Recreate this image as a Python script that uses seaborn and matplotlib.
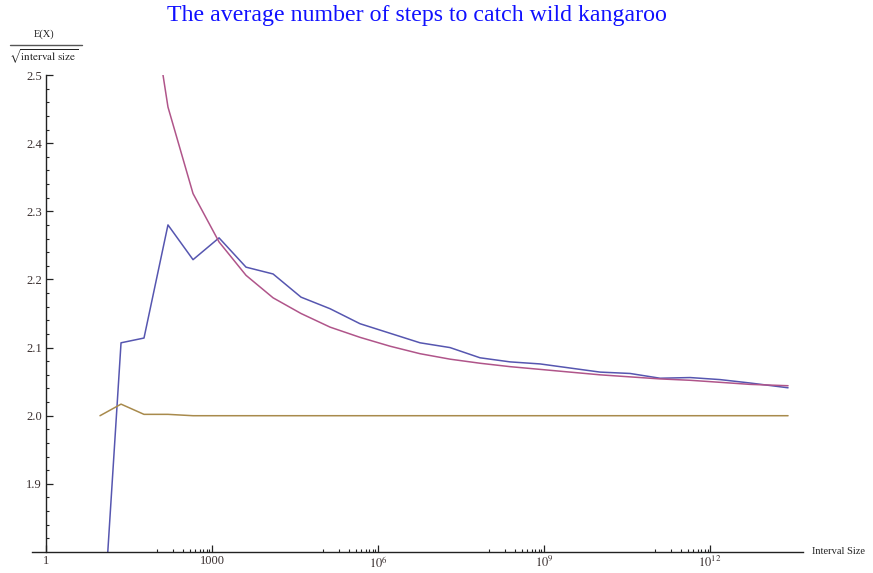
import numpy as np
import pandas as pd
import matplotlib
matplotlib.use("Agg")
import matplotlib.pyplot as plt
from matplotlib.lines import Line2D
from matplotlib.ticker import FixedLocator, NullFormatter
import seaborn as sns

# Interval sizes at which the expected number of steps was evaluated
interval_sizes = [9.46, 22.7, 59.0, 160, 454, 1340, 4120, 1.27e4, 4.06e4, 1.36e5,
                  4.73e5, 1.65e6, 5.75e6, 2.0e7, 6.98e7, 2.43e8, 8.48e8, 2.95e9,
                  1.03e10, 3.59e10, 1.25e11, 4.36e11, 1.52e12, 5.29e12, 2.57e13]

# E(X)/sqrt(interval size): simulated walk
simulated = [1.62, 2.107, 2.114, 2.280, 2.229, 2.261, 2.218, 2.208, 2.174, 2.157,
             2.135, 2.121, 2.107, 2.100, 2.085, 2.079, 2.076, 2.070, 2.064, 2.062,
             2.055, 2.056, 2.053, 2.048, 2.041]

# E(X)/sqrt(interval size): analytic estimate (starts from the third size)
estimate = [np.nan, np.nan, 2.68, 2.453, 2.326, 2.255, 2.206, 2.173, 2.150, 2.130,
            2.115, 2.102, 2.091, 2.083, 2.077, 2.072, 2.068, 2.064, 2.060, 2.057,
            2.054, 2.052, 2.049, 2.046, 2.044]

# E(X)/sqrt(interval size): asymptotic limit
limit = [2.0, 2.017, 2.002, 2.002, 2.0, 2.0, 2.0, 2.0, 2.0, 2.0,
         2.0, 2.0, 2.0, 2.0, 2.0, 2.0, 2.0, 2.0, 2.0, 2.0,
         2.0, 2.0, 2.0, 2.0, 2.0]

series_names = ["simulated", "estimate", "limit"]
series_colors = ["#5656b0", "#b0558a", "#a88a4c"]

x_ticks = [1, 1e3, 1e6, 1e9, 1e12]
x_tick_labels = ["1", "1000", r"$10^{6}$", r"$10^{9}$", r"$10^{12}$"]
y_ticks = [1.9, 2.0, 2.1, 2.2, 2.3, 2.4, 2.5]
y_tick_labels = ["1.9", "2.0", "2.1", "2.2", "2.3", "2.4", "2.5"]

frames = []
for name, vals in zip(series_names, [simulated, estimate, limit]):
    frames.append(pd.DataFrame({"size": interval_sizes, "ratio": vals, "series": name}))
df = pd.concat(frames, ignore_index=True).dropna()

sns.set_style("white")
plt.rcParams["font.family"] = ["Liberation Serif", "DejaVu Serif"]
plt.rcParams["mathtext.fontset"] = "stix"

W, H = 873, 573
fig = plt.figure(figsize=(W / 100, H / 100), dpi=100)
ax_left, ax_right, ax_top, ax_bottom = 32, 803, 75, 552
ax = fig.add_axes([ax_left / W, 1 - ax_bottom / H, (ax_right - ax_left) / W, (ax_bottom - ax_top) / H])

sns.lineplot(data=df, x="size", y="ratio", hue="series", hue_order=series_names,
             palette=series_colors, estimator=None, sort=False, linewidth=1.1,
             legend=False, ax=ax)

ax.set_xscale("log")
ax.set_xlim(10 ** -0.253, 10 ** 13.68)
ax.set_ylim(1.8, 2.5)

for side in ["top", "right"]:
    ax.spines[side].set_visible(False)
ax.spines["left"].set_position(("data", 1))
for side in ["left", "bottom"]:
    ax.spines[side].set_color("#222222")
    ax.spines[side].set_linewidth(1.0)

# x ticks: labelled every three decades, minor ticks at j*10^(3k-1)
ax.xaxis.set_major_locator(FixedLocator(x_ticks))
ax.set_xticklabels(x_tick_labels)
minor_x = [j * 10.0 ** (3 * k - 1) for k in range(1, 5) for j in range(1, 10)]
ax.xaxis.set_minor_locator(FixedLocator(minor_x))
ax.xaxis.set_minor_formatter(NullFormatter())

ax.yaxis.set_major_locator(FixedLocator(y_ticks))
ax.set_yticklabels(y_tick_labels)
ax.yaxis.set_minor_locator(FixedLocator(np.round(np.arange(1.82, 2.5, 0.02), 2)))

ax.tick_params(axis="x", which="major", direction="in", length=5, width=0.9,
               color="#222222", labelsize=9, pad=2, labelcolor="#3a3030")
ax.tick_params(axis="x", which="minor", direction="in", length=2.5, width=0.8,
               color="#222222")
ax.tick_params(axis="y", which="major", direction="in", length=5, width=0.9,
               color="#222222", labelsize=9, pad=3, labelcolor="#3a3030")
ax.tick_params(axis="y", which="minor", direction="in", length=2.5, width=0.8,
               color="#222222")
ax.tick_params(bottom=True, left=True, which="both")
ax.set_xlabel("")
ax.set_ylabel("")

# Title
fig.text(417 / W, 1 - 16 / H, "The average number of steps to catch wild kangaroo",
         ha="center", va="center", color="#1010ff", fontsize=17.2)

# Vertical axis label as a fraction
fig.text(44 / W, 1 - 34 / H, "E(X)", ha="center", va="center", fontsize=7.5, color="#222222")
fig.add_artist(Line2D([10 / W, 82 / W], [1 - 45 / H, 1 - 45 / H],
                      transform=fig.transFigure, color="#555555", linewidth=1.0))
fig.text(44 / W, 1 - 57 / H, r"$\sqrt{\mathrm{interval\ size}}$", ha="center", va="center",
         fontsize=8, color="#222222")

# Horizontal axis label
fig.text(812 / W, 1 - 552 / H, "Interval Size", ha="left", va="center", fontsize=7.5,
         color="#222222")

fig.savefig("out.png", dpi=100, facecolor="white")
